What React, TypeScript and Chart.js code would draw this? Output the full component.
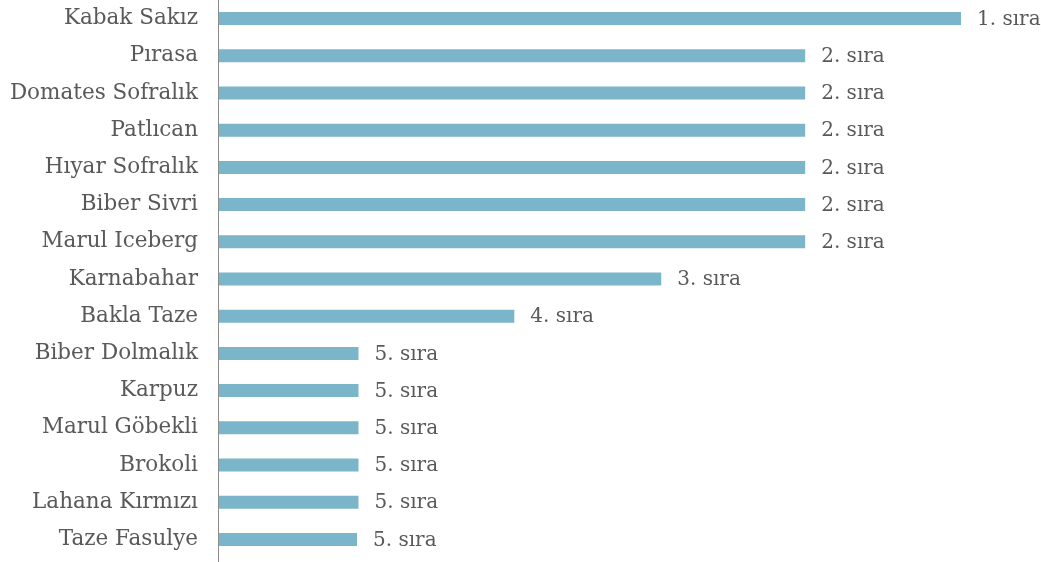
import React, { useEffect, useRef } from "react";
import { Chart, registerables } from "chart.js";

Chart.register(...registerables);

const categories = [
  "Kabak Sakız",
  "Pırasa",
  "Domates Sofralık",
  "Patlıcan",
  "Hıyar Sofralık",
  "Biber Sivri",
  "Marul Iceberg",
  "Karnabahar",
  "Bakla Taze",
  "Biber Dolmalık",
  "Karpuz",
  "Marul Göbekli",
  "Brokoli",
  "Lahana Kırmızı",
  "Taze Fasulye",
];

const values = [5, 3.95, 3.95, 3.95, 3.95, 3.95, 3.95, 2.98, 1.99, 0.94, 0.94, 0.94, 0.94, 0.94, 0.93];

const rankLabels = [
  "1. sıra",
  "2. sıra",
  "2. sıra",
  "2. sıra",
  "2. sıra",
  "2. sıra",
  "2. sıra",
  "3. sıra",
  "4. sıra",
  "5. sıra",
  "5. sıra",
  "5. sıra",
  "5. sıra",
  "5. sıra",
  "5. sıra",
];

const FONT = "'DejaVu Serif', serif";
const TEXT_COLOR = "#595959";

const endLabels = {
  id: "endLabels",
  beforeDatasetsDraw(chart: any) {
    const ctx = chart.ctx;
    const x = Math.round(chart.chartArea.left) - 0.5;
    ctx.save();
    ctx.strokeStyle = "#8c8c8c";
    ctx.lineWidth = 1;
    ctx.beginPath();
    ctx.moveTo(x, 0);
    ctx.lineTo(x, chart.height);
    ctx.stroke();
    ctx.restore();
  },
  afterDatasetsDraw(chart: any) {
    const ctx = chart.ctx;
    const meta = chart.getDatasetMeta(0);
    ctx.save();
    ctx.font = `20px ${FONT}`;
    ctx.fillStyle = TEXT_COLOR;
    ctx.textAlign = "left";
    ctx.textBaseline = "middle";
    meta.data.forEach((bar: any, i: number) => {
      ctx.fillText(rankLabels[i], bar.x + 16, bar.y + 1);
    });
    ctx.restore();
  },
};

export default function App() {
  const ref = useRef<HTMLCanvasElement | null>(null);
  useEffect(() => {
    if (!ref.current) return;
    const chart = new Chart(ref.current, {
      type: "bar",
      data: {
        labels: categories,
        datasets: [
          {
            data: values,
            backgroundColor: "#7bb5c9",
            barPercentage: 0.35,
            categoryPercentage: 1,
          },
        ],
      },
      options: {
        indexAxis: "y",
        animation: false,
        responsive: false,
        maintainAspectRatio: false,
        layout: { padding: { top: 0, right: 80, bottom: 4, left: 0 } },
        plugins: {
          legend: { display: false },
          tooltip: { enabled: false },
        },
        scales: {
          x: {
            display: false,
            min: 0,
            max: 5,
          },
          y: {
            afterFit(scale: any) {
              scale.width = 219;
              scale.paddingTop = 0;
              scale.paddingBottom = 0;
            },
            grid: { display: false, drawTicks: false },
            border: { display: false },
            ticks: {
              color: TEXT_COLOR,
              font: { family: FONT, size: 21.5 },
              padding: 21,
              autoSkip: false,
            },
          },
        },
      },
      plugins: [endLabels],
    });
    return () => chart.destroy();
  }, []);
  return (
    <div style={{ position: "fixed", left: 0, top: 0, width: 1041, height: 562, background: "#fff" }}>
      <canvas ref={ref} width={1041} height={562} style={{ width: 1041, height: 562 }} />
    </div>
  );
}
